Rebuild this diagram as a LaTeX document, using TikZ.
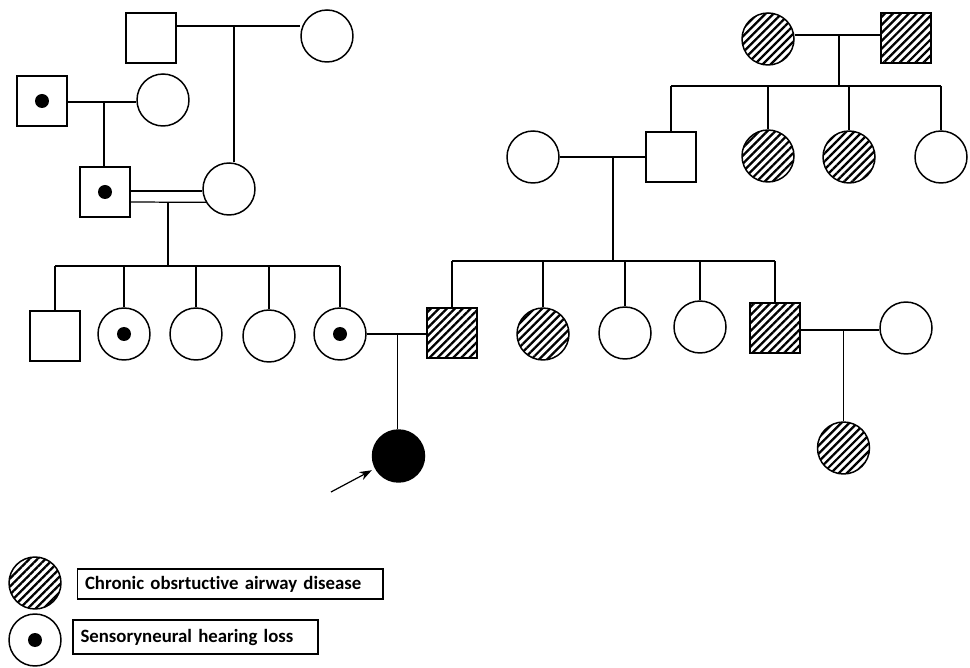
\documentclass[tikz,border=0pt]{standalone}
\usepackage{fontspec}
\setmainfont{Carlito}[Ligatures=NoCommon]
\usetikzlibrary{arrows.meta,patterns.meta}

\begin{document}
\begin{tikzpicture}[x=0.02cm, y=-0.02cm,
        ML/.style={draw, line width=0.85pt, minimum size=1cm, inner sep=0pt},
        FL/.style={draw, circle, line width=0.85pt, minimum size=1.04cm, inner sep=0pt},
        HT/.style={pattern={Lines[angle=45, distance=3.2pt, line width=1.3pt]}},
        SN/.style={path picture={\fill (path picture bounding box.center) circle (0.14cm);}},
        PB/.style={fill=black},
        ln/.style={line width=0.7pt},
        LG/.style={draw, line width=0.6pt, align=left, inner ysep=0pt,
            font=\bfseries\fontsize{10.7}{13}\selectfont},
      ]
      \useasboundingbox (0,0) rectangle (970,668);

      % Left family
      \node[ML]       (a1) at (151, 38) {};
      \node[FL]       (a2) at (327, 36) {};
      \node[ML,SN]    (b1) at ( 42,101) {};
      \node[FL]       (b2) at (163,100) {};
      \node[ML,SN]    (c1) at (105,192) {};
      \node[FL]       (c2) at (229,189) {};

      \node[ML]       (d1) at ( 55,336) {};
      \node[FL,SN]    (d2) at (124,334) {};
      \node[FL]       (d3) at (196,334) {};
      \node[FL]       (d4) at (269,336) {};
      \node[FL,SN]    (d5) at (340,334) {};

      \node[FL,PB]    (pro) at (398.5,456) {};

      % Right family
      \node[FL,HT]    (f1) at (768, 39) {};
      \node[ML,HT]    (f2) at (906, 38) {};
      \node[FL]       (h1) at (533,157) {};
      \node[ML]       (g1) at (671,157) {};
      \node[FL,HT]    (g2) at (768,156) {};
      \node[FL,HT]    (g3) at (849,157) {};
      \node[FL]       (g4) at (941,157) {};

      \node[ML,HT]    (e1) at (452,333) {};
      \node[FL,HT]    (k2) at (543,334) {};
      \node[FL]       (k3) at (625,333) {};
      \node[FL]       (k4) at (700,327) {};
      \node[ML,HT]    (k5) at (775,328) {};
      \node[FL]       (w5) at (906,328) {};
      \node[FL,HT]    (n1) at (843.5,448) {};

      % Mating and sibship points
      \coordinate (m1) at (234, 26);
      \coordinate (m2) at (104,102);
      \coordinate (m3) at (168,202);
      \coordinate (s1) at (168,266);
      \coordinate (m4) at (397.5,334);
      \coordinate (m5) at (839, 35);
      \coordinate (s2) at (839, 86);
      \coordinate (m6) at (613,157);
      \coordinate (s3) at (613,261);
      \coordinate (m7) at (843.5,330);
      \coordinate (ptr) at (331,492);

      % Lines
      \draw[ln] (a1.east |- m1) -- (a2.west |- m1);
      \draw[ln] (m1) -- (m1 |- c2.north);
      \draw[ln] (b1.east |- m2) -- (b2.west |- m2);
      \draw[ln] (m2) -- (m2 |- c1.north);
      \draw[ln] (c1.east |- 0,191) -- (c2.west |- 0,191);
      \draw[ln] (c1.east |- m3) -- (c2.210);
      \draw[ln] (m3) -- (s1);
      \draw[ln] (d1.north |- s1) -- (d5.north |- s1);
      \draw[ln] (d1.north |- s1) -- (d1.north);
      \draw[ln] (d2.north |- s1) -- (d2.north);
      \draw[ln] (d3.north |- s1) -- (d3.north);
      \draw[ln] (d4.north |- s1) -- (d4.north);
      \draw[ln] (d5.north |- s1) -- (d5.north);
      \draw[ln] (d5.east) -- (e1.west |- d5.east);
      \draw[ln] (m4) -- (m4 |- pro.north);

      \draw[ln] (f1.east |- m5) -- (f2.west |- m5);
      \draw[ln] (m5) -- (s2);
      \draw[ln] (g1.north |- s2) -- (g4.north |- s2);
      \draw[ln] (g1.north |- s2) -- (g1.north);
      \draw[ln] (g2.north |- s2) -- (g2.north);
      \draw[ln] (g3.north |- s2) -- (g3.north);
      \draw[ln] (g4.north |- s2) -- (g4.north);
      \draw[ln] (h1.east) -- (g1.west);
      \draw[ln] (m6) -- (s3);
      \draw[ln] (e1.north |- s3) -- (k5.north |- s3);
      \draw[ln] (e1.north |- s3) -- (e1.north);
      \draw[ln] (k2.north |- s3) -- (k2.north);
      \draw[ln] (k3.north |- s3) -- (k3.north);
      \draw[ln] (k4.north |- s3) -- (k4.north);
      \draw[ln] (k5.north |- s3) -- (k5.north);
      \draw[ln] (k5.east |- m7) -- (w5.west |- m7);
      \draw[ln] (m7) -- (m7 |- n1.north);

      \draw[ln, -{Stealth[length=7pt, width=5pt]}, shorten >=2pt] (ptr) -- (pro);

      % Legend
      \node[FL,HT] (lc1) at (35,583) {};
      \node[FL,SN] (lc2) at (35,640) {};
      \node[LG, text width=5.8cm, minimum height=0.6cm, inner xsep=0.16cm]
        (lb1) at (230,584) {Chronic obsrtuctive airway disease};
      \node[LG, text width=4.6cm, minimum height=0.68cm, inner xsep=0.15cm]
        (lb2) at (195.5,637) {Sensoryneural hearing loss};

    \end{tikzpicture}
\end{document}
